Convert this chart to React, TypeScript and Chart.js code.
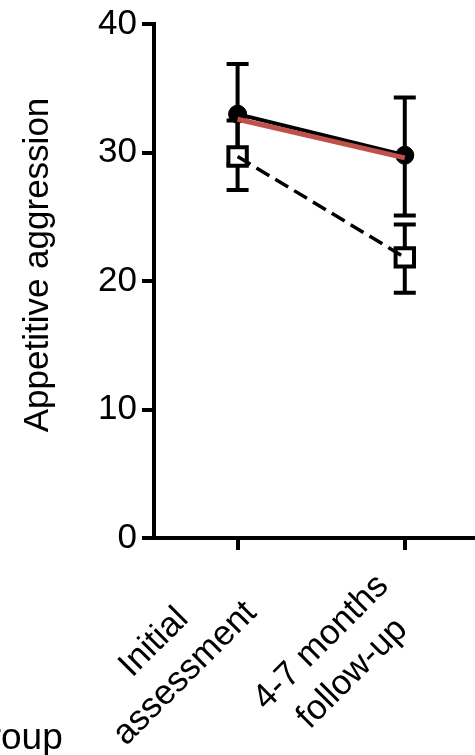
import React, { useEffect, useRef } from "react";
import { Chart, registerables } from "chart.js";

Chart.register(...registerables);

// ---- data ----
const categories: string[][] = [["Initial", "assessment"], ["4-7 months", "follow-up"]];
const yTicks = [0, 10, 20, 30, 40];
const circleMeans = [33.0, 29.8];
const circleErrUp = [3.9, 4.5];
const circleErrDown = [3.9, 4.7];
const squareMeans = [29.7, 21.85];
const squareErrUp = [2.8, 2.55];
const squareErrDown = [2.6, 2.75];
const redLine = [32.6, 29.6];
const yTitle = "Appetitive aggression";
const legendText = "Group";

const FONT = "Arial, 'Liberation Sans', sans-serif";
const W = 475;
const H = 755;

const toPoints = (arr: number[]) => arr.map((y, i) => ({ x: i, y }));

const annotate = {
  id: "annotate",
  beforeDatasetsDraw(chart: any) {
    const ctx = chart.ctx;
    const xs = chart.scales.x;
    const ys = chart.scales.y;
    ctx.save();
    ctx.strokeStyle = "#000";
    ctx.lineWidth = 4;
    const draw = (means: number[], up: number[], down: number[]) => {
      means.forEach((m, i) => {
        const px = xs.getPixelForValue(i);
        const top = ys.getPixelForValue(m + up[i]);
        const bot = ys.getPixelForValue(m - down[i]);
        ctx.beginPath();
        ctx.moveTo(px, top);
        ctx.lineTo(px, bot);
        ctx.moveTo(px - 11, top);
        ctx.lineTo(px + 11, top);
        ctx.moveTo(px - 11, bot);
        ctx.lineTo(px + 11, bot);
        ctx.stroke();
      });
    };
    draw(circleMeans, circleErrUp, circleErrDown);
    draw(squareMeans, squareErrUp, squareErrDown);
    ctx.restore();
  },
  afterDraw(chart: any) {
    const ctx = chart.ctx;
    const xs = chart.scales.x;
    const area = chart.chartArea;
    ctx.save();
    ctx.fillStyle = "#000";
    // x category labels, rotated 45deg, centred lines
    ctx.font = `35px ${FONT}`;
    ctx.textAlign = "center";
    ctx.textBaseline = "middle";
    categories.forEach((lines, i) => {
      const px = xs.getPixelForValue(i);
      ctx.save();
      ctx.translate(px - 68, area.bottom + 120);
      ctx.rotate(-Math.PI / 4);
      const lh = 44;
      lines.forEach((t, j) => {
        ctx.fillText(t, 0, (j - (lines.length - 1) / 2) * lh);
      });
      ctx.restore();
    });
    // y title
    ctx.save();
    ctx.font = `35px ${FONT}`;
    ctx.translate(38, 265);
    ctx.rotate(-Math.PI / 2);
    ctx.fillText(yTitle, 0, 0);
    ctx.restore();
    // clipped legend text (only its tail is on the canvas)
    ctx.font = `37px ${FONT}`;
    ctx.textAlign = "left";
    ctx.textBaseline = "alphabetic";
    const hidden = ctx.measureText(legendText.slice(0, 2)).width;
    ctx.fillText(legendText, -hidden + 1, 749);
    ctx.restore();
  },
};

export default function App() {
  const ref = useRef<HTMLCanvasElement | null>(null);
  useEffect(() => {
    if (!ref.current) return;
    const axisGrid = {
      drawOnChartArea: false,
      drawTicks: true,
      tickLength: 12,
      tickWidth: 4,
      lineWidth: 4,
      color: "#000",
      tickColor: "#000",
    };
    const axisBorder = { display: true, color: "#000", width: 4 };
    const chart = new Chart(ref.current, {
      type: "line",
      data: {
        datasets: [
          {
            label: "trend",
            data: toPoints(redLine),
            borderColor: "#c2504a",
            borderWidth: 5,
            pointRadius: 0,
            order: 0,
          },
          {
            label: "circles",
            data: toPoints(circleMeans),
            borderColor: "#000",
            borderWidth: 4,
            pointRadius: 9,
            pointBackgroundColor: "#000",
            pointBorderColor: "#000",
            pointBorderWidth: 1,
            order: 1,
          },
          {
            label: "dashed",
            data: toPoints(squareMeans),
            borderColor: "#000",
            borderWidth: 3.5,
            borderDash: [15, 7],
            pointRadius: 0,
            order: 2,
          },
          {
            label: "squares",
            data: toPoints(squareMeans),
            showLine: false,
            pointStyle: "rect",
            pointRadius: 13,
            pointBackgroundColor: "#fff",
            pointBorderColor: "#000",
            pointBorderWidth: 4,
            order: 3,
          },
        ],
      } as any,
      options: {
        responsive: false,
        animation: false,
        devicePixelRatio: 1,
        layout: { padding: { top: 20, left: 0, right: 0, bottom: 0 }, autoPadding: false },
        plugins: { legend: { display: false }, tooltip: { enabled: false } },
        scales: {
          x: {
            type: "linear",
            min: -0.5,
            max: 1.42,
            afterBuildTicks: (s: any) => {
              s.ticks = categories.map((_, i) => ({ value: i }));
            },
            afterFit: (s: any) => {
              s.height = 217;
            },
            ticks: { display: false },
            grid: axisGrid,
            border: axisBorder,
          },
          y: {
            min: 0,
            max: 40,
            afterBuildTicks: (s: any) => {
              s.ticks = yTicks.map((v) => ({ value: v }));
            },
            afterFit: (s: any) => {
              s.width = 154;
            },
            ticks: { font: { size: 35, family: FONT, lineHeight: 1.1 }, color: "#000", padding: 5 },
            grid: axisGrid,
            border: axisBorder,
          },
        },
      } as any,
      plugins: [annotate],
    });
    return () => chart.destroy();
  }, []);
  return (
    <div style={{ position: "absolute", left: 0, top: 0, width: W, height: H, overflow: "hidden" }}>
      <canvas ref={ref} width={W} height={H} style={{ display: "block" }} />
    </div>
  );
}
